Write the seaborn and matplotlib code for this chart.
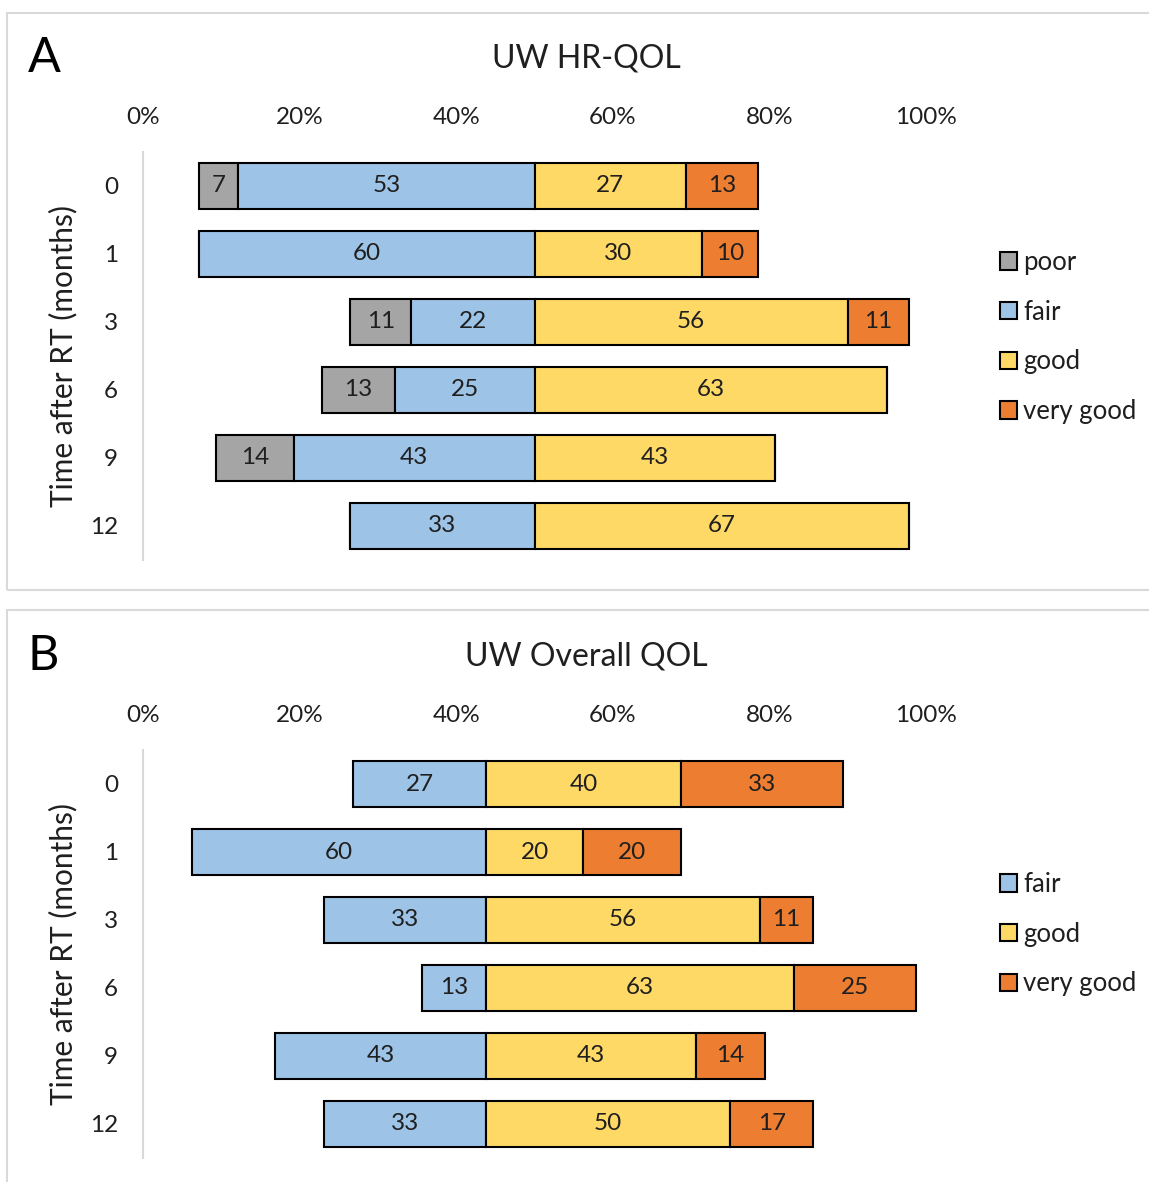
import numpy as np
import pandas as pd
import matplotlib
matplotlib.use("Agg")
import matplotlib.pyplot as plt
import seaborn as sns
from matplotlib.patches import Rectangle

times = ["0", "1", "3", "6", "9", "12"]

# UW HR-QOL, % of patients per answer
hr_poor = [7, 0, 11, 13, 14, 0]
hr_fair = [53, 60, 22, 25, 43, 33]
hr_good = [27, 30, 56, 63, 43, 67]
hr_very_good = [13, 10, 11, 0, 0, 0]

# UW Overall QOL, % of patients per answer
ov_fair = [27, 60, 33, 13, 43, 33]
ov_good = [40, 20, 56, 63, 43, 50]
ov_very_good = [33, 20, 11, 25, 14, 17]

tick_labels = ["0%", "20%", "40%", "60%", "80%", "100%"]

COLORS = {
    "poor": "#A5A5A5",
    "fair": "#9DC3E6",
    "good": "#FFD966",
    "very good": "#ED7D31",
}
TEXT = "#1f1f1f"
GRID_GREY = "#D9D9D9"
W, H = 1149, 1182


def fx(px):
    return px / W


def fy(py):
    return 1 - py / H


def draw_panel(ax, segments, n_negative, center, xmax):
    vals = np.array([v for _, v in segments], dtype=float)
    left = center - vals[:n_negative].sum(axis=0)
    for name, v in segments:
        df = pd.DataFrame({"time": times, "value": v})
        sns.barplot(
            data=df, x="value", y="time", order=times, orient="h",
            color=COLORS[name], saturation=1, width=0.69, errorbar=None,
            edgecolor="black", linewidth=1.5, left=left, label=name, ax=ax,
        )
        labels = [str(x) if x > 0 else "" for x in v]
        ax.bar_label(ax.containers[-1], labels=labels, label_type="center",
                     fontsize=17.5, color=TEXT)
        left = left + np.asarray(v, dtype=float)

    ax.set_xlim(0, xmax)
    ax.xaxis.tick_top()
    ax.set_xticks(np.linspace(0, xmax, len(tick_labels)))
    ax.set_xticklabels(tick_labels)
    ax.tick_params(axis="x", length=0, pad=17, labelsize=17.5, colors=TEXT)
    ax.tick_params(axis="y", length=0, pad=18, labelsize=17.5, colors=TEXT)
    ax.set_xlabel("")
    ax.set_ylabel("")
    for side in ["top", "right", "bottom"]:
        ax.spines[side].set_visible(False)
    ax.spines["left"].set_color(GRID_GREY)
    ax.spines["left"].set_linewidth(1.5)
    ax.grid(False)


def main() -> None:
    sns.set_theme(style="white")
    plt.rcParams["font.family"] = ["Lato", "DejaVu Sans"]

    fig = plt.figure(figsize=(W / 100, H / 100), dpi=100)

    # panel frames
    fig.patches.append(Rectangle((fx(7), fy(590)), 1.0, (590 - 13) / H,
                                 transform=fig.transFigure, fill=False,
                                 edgecolor=GRID_GREY, linewidth=1.5))
    fig.patches.append(Rectangle((fx(7), fy(1190)), 1.0, (1190 - 610) / H,
                                 transform=fig.transFigure, fill=False,
                                 edgecolor=GRID_GREY, linewidth=1.5))

    ax_a = fig.add_axes([fx(143), fy(560), 783 / W, 408 / H])
    draw_panel(
        ax_a,
        [("poor", hr_poor), ("fair", hr_fair), ("good", hr_good), ("very good", hr_very_good)],
        n_negative=2, center=70, xmax=140,
    )

    ax_b = fig.add_axes([fx(143), fy(1158), 783 / W, 408 / H])
    draw_panel(
        ax_b,
        [("fair", ov_fair), ("good", ov_good), ("very good", ov_very_good)],
        n_negative=1, center=70, xmax=160,
    )

    legend_kw = dict(
        loc="upper left", bbox_transform=fig.transFigure, frameon=False,
        fontsize=18.5, handlelength=0.66, handleheight=0.66, handletextpad=0.25,
        labelspacing=0.96, borderpad=0, borderaxespad=0, labelcolor=TEXT,
    )
    ax_a.legend(bbox_to_anchor=(fx(1000), fy(250)), **legend_kw)
    ax_b.legend(bbox_to_anchor=(fx(1000), fy(872)), **legend_kw)

    for top, letter, title in [(0, "A", "UW HR-QOL"), (598, "B", "UW Overall QOL")]:
        fig.text(fx(28), fy(72 + top), letter, fontsize=35, ha="left",
                 va="baseline", color="black")
        fig.text(fx(586), fy(68 + top), title, fontsize=23, ha="center",
                 va="baseline", color=TEXT)
        fig.text(fx(63), fy(356 + top), "Time after RT (months)", fontsize=21.5,
                 rotation=90, ha="center", va="center", color=TEXT)

    fig.savefig("out.png", dpi=100)
    plt.close(fig)


if __name__ == "__main__":
    main()
